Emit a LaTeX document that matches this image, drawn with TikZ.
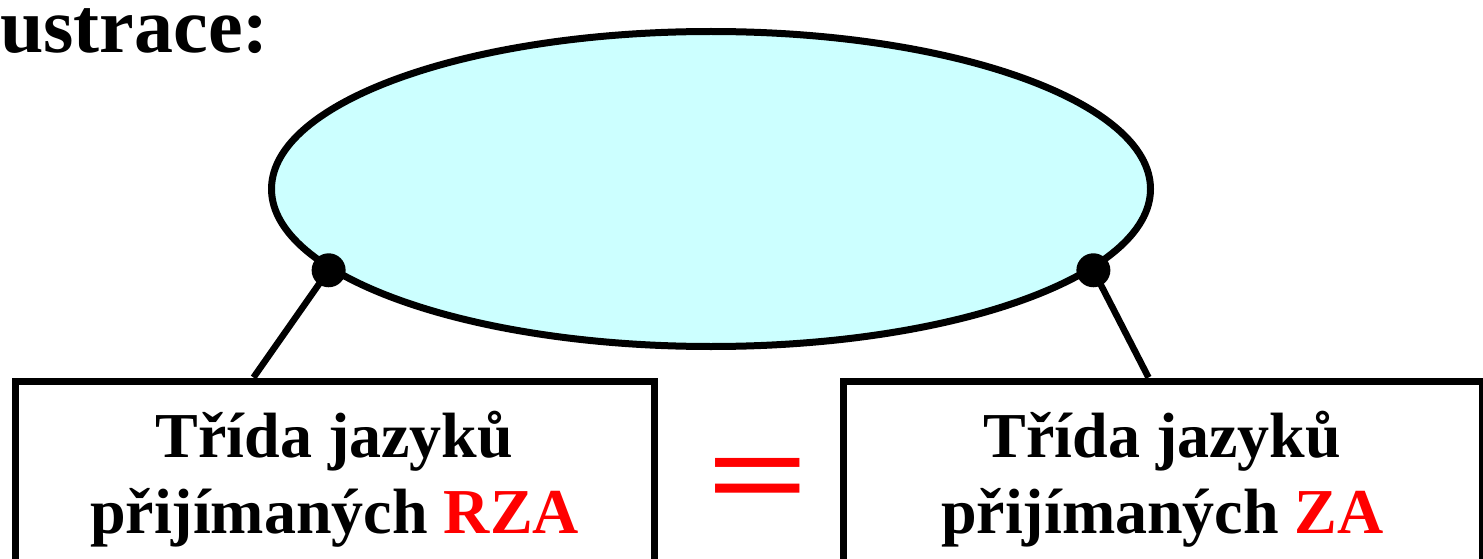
\documentclass[tikz,border=0pt]{standalone}
\usepackage{fontspec}
\setmainfont{Liberation Serif}
\usetikzlibrary{shapes.geometric,positioning}
\definecolor{sky}{HTML}{CCFFFF}
\definecolor{hot}{HTML}{FF0000}
\tikzset{
  every node/.style={font=\bfseries},
  langset/.style={ellipse,draw=black,line width=7pt,fill=sky,minimum width=879pt,minimum height=315pt,inner sep=0pt},
  joint/.style={circle,fill=black,minimum size=34pt,inner sep=0pt},
  classbox/.style={draw=black,line width=7pt,minimum width=639pt,minimum height=196pt,align=center,inner sep=0pt,font=\bfseries\fontsize{64}{76}\selectfont},
  link/.style={line width=6.5pt},
  heading/.style={font=\bfseries\fontsize{78}{80}\selectfont,inner sep=0pt,anchor=base west},
  eqsign/.style={text=hot,font=\bfseries\fontsize{165}{165}\selectfont,inner sep=0pt},
}
\newcommand{\hl}[1]{\textcolor{hot}{#1}}

\begin{document}
\begin{tikzpicture}[x=1pt,y=1pt]
\useasboundingbox (0,0) rectangle (1483,-559);

\node[heading] (head) at (0,-53) {ustrace:};

% the set of languages
\node[langset] (lang) at (711,-189) {};

% the two classes
\node[classbox] (rza) at (334.5,-479) {Třída jazyků\\přijímaných \hl{RZA}};
\node[classbox] (za) at (1162.5,-479) {Třída jazyků\\přijímaných \hl{ZA}};
\node[eqsign] (eq) at (758.5,-488.5) {\scalebox{1.1}[0.78]{=}};

\draw[link] (lang.192) -- ([xshift=-81pt]rza.north);
\draw[link] (lang.348) -- ([xshift=-14pt]za.north);
\node[joint] (jl) at (lang.192) {};
\node[joint] (jr) at (lang.348) {};

\end{tikzpicture}
\end{document}
